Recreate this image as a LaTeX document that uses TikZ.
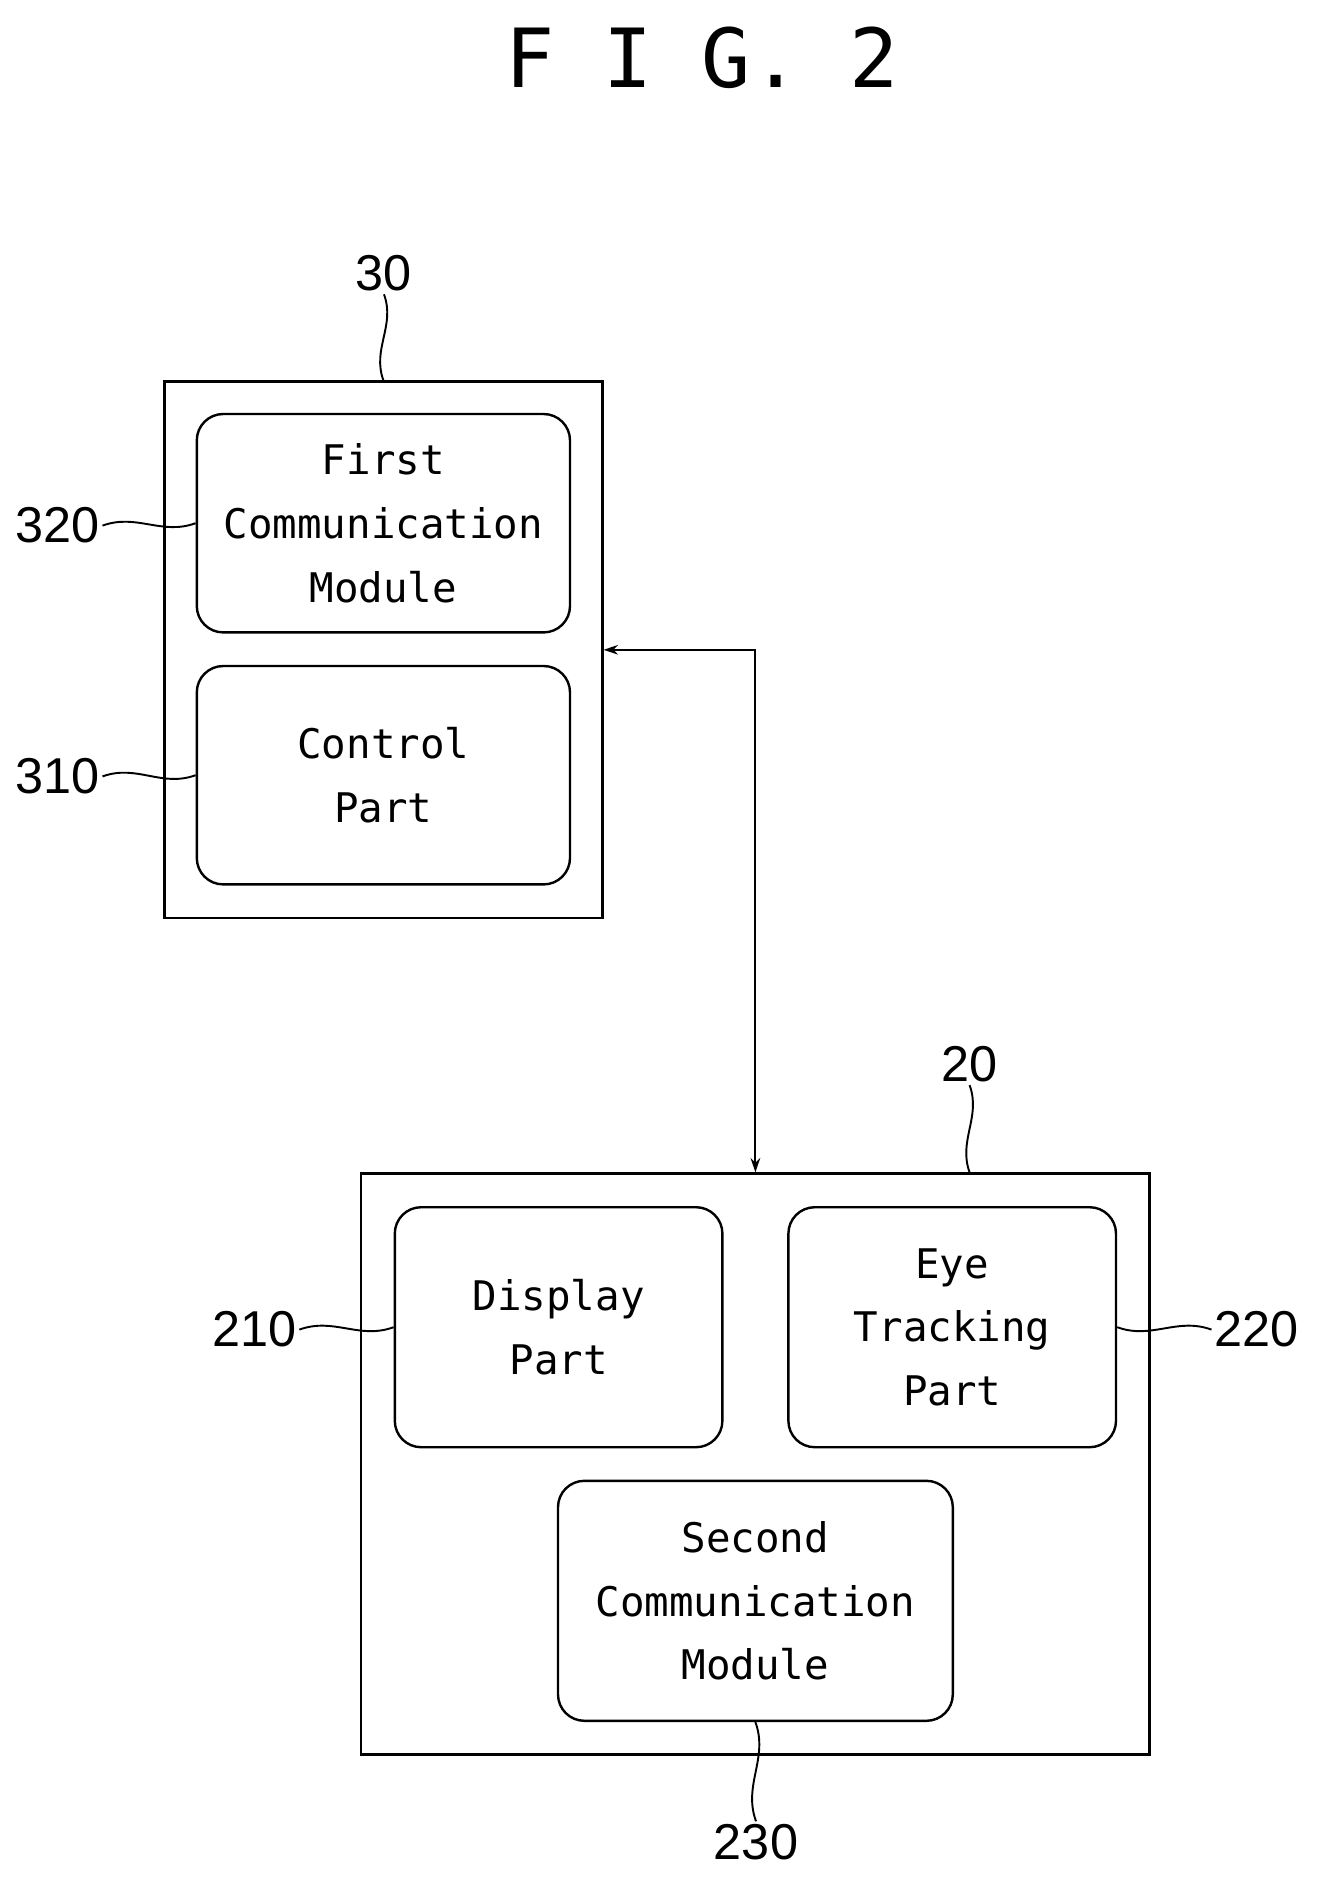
\documentclass[tikz,border=0pt]{standalone}
\usepackage{fontspec}
\setmainfont{DejaVu Sans Mono}
\newfontfamily\numfont{Liberation Sans}
\usetikzlibrary{arrows.meta}
\begin{document}
\begin{tikzpicture}[x=0.5pt,y=-0.5pt,
  outer/.style={draw,line width=1pt,inner sep=0pt},
  inner/.style={draw,line width=1pt,rounded corners=11pt,align=center,font=\fontsize{17}{26.5}\selectfont,inner sep=0pt},
  lab/.style={font=\numfont\fontsize{21}{24}\selectfont,inner sep=1pt},
  lead/.style={line width=0.8pt}]
\useasboundingbox (0,0) rectangle (1103,1580);
\node[font=\fontsize{34}{40}\selectfont] (title) at (585,48) {F I G.  2};
\node[outer,minimum width=182.5pt,minimum height=223.5pt] (b30) at (319.5,541.5) {};
\node[inner,minimum width=155.5pt,minimum height=91pt] (c320) at (319.5,436) {First\\Communication\\Module};
\node[inner,minimum width=155.5pt,minimum height=91pt] (c310) at (319.5,646) {Control\\Part};
\node[outer,minimum width=328.5pt,minimum height=242pt] (b20) at (629.5,1220) {};
\node[inner,minimum width=136.5pt,minimum height=100pt] (c210) at (465.5,1106) {Display\\Part};
\node[inner,minimum width=136.5pt,minimum height=100pt] (c220) at (793.5,1106) {Eye\\Tracking\\Part};
\node[inner,minimum width=164.5pt,minimum height=100pt] (c230) at (629.5,1334) {Second\\Communication\\Module};
\node[lab] (l30) at (320,228) {30};
\node[lab] (l20) at (808,887) {20};
\node[lab] (l320) at (48,438) {320};
\node[lab] (l310) at (48,647) {310};
\node[lab] (l210) at (212,1108) {210};
\node[lab] (l220) at (1047,1108) {220};
\node[lab] (l230) at (630,1535) {230};
\draw[lead] (l30.south) to[out=-70,in=110] (b30.north);
\draw[lead] (l20.south) to[out=-70,in=110] (b20.north-|l20.south);
\draw[lead] (l320.east) to[out=20,in=200] (c320.west);
\draw[lead] (l310.east) to[out=20,in=200] (c310.west);
\draw[lead] (l210.east) to[out=20,in=200] (c210.west);
\draw[lead] (l220.west) to[out=160,in=-20] (c220.east);
\draw[lead] (c230.south) to[out=-70,in=110] (l230.north);
\draw[line width=0.9pt,{Stealth[length=6pt,width=4pt]}-{Stealth[length=6pt,width=4pt]}] (b30.east) -| (b20.north);
\end{tikzpicture}
\end{document}
